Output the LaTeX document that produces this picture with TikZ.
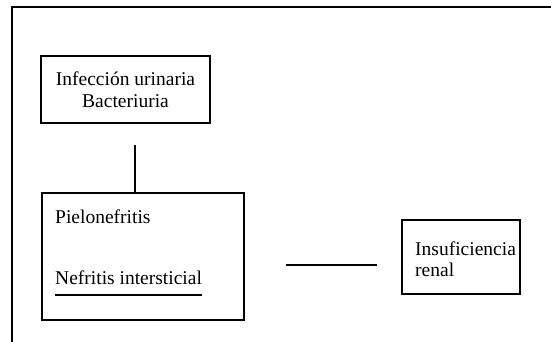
\documentclass[tikz,border=0pt]{standalone}
\usepackage{fontspec}
\setmainfont{Liberation Serif}
\tikzset{
	box/.style={draw, line width=1.2pt, rectangle, inner sep=0pt},
	txt/.style={inner sep=0pt, font=\fontsize{19.5}{21}\selectfont},
	thinline/.style={line width=1.1pt},
	thickline/.style={line width=2pt}
}
\begin{document}
\begin{tikzpicture}[x=1pt, y=-1pt]
	\useasboundingbox (0,0) rectangle (551,342);

	%frame
	\draw[line width=1.2pt] (12,342) -- (12,7) -- (551,7);

	%boxes
	\node[box, minimum width=169pt, minimum height=67pt] (infeccion) at (125.5,89.5) {};
	\node[box, minimum width=202pt, minimum height=127pt] (pielo) at (143,256.5) {};
	\node[box, minimum width=118pt, minimum height=74pt] (insuf) at (461,257) {};

	%texts
	\node[txt, anchor=base, align=center] (infecciontxt) at (125.5,107) {Infecci\'on urinaria\\Bacteriuria};
	\node[txt, anchor=base west] (pielotxt) at (55,223) {Pielonefritis};
	\node[txt, anchor=base west] (nefritis) at (55,284) {Nefritis intersticial};
	\node[txt, anchor=base west, align=left] (insuftxt) at (415,276) {Insuficiencia\\renal};

	%lines
	\coordinate (v1) at (135,145);
	\draw[thinline] (v1) -- (v1 |- pielo.north);
	\coordinate (h1) at (286,265);
	\coordinate (h2) at (377,265);
	\draw[thickline] (h1) -- (h2);
	\draw[thickline] ([yshift=-11pt]nefritis.base west) -- ([yshift=-11pt]nefritis.base east);
\end{tikzpicture}
\end{document}
